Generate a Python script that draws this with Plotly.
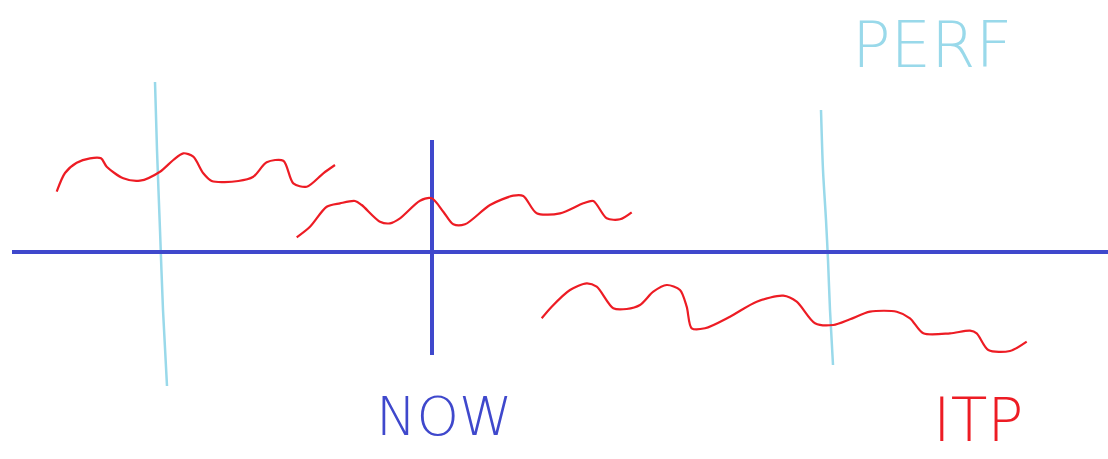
import plotly.graph_objects as go

# Sketch coordinates (x to the right, y downward, in canvas units)
wave1_x = [56.7, 65, 76.7, 90, 101, 106.7, 123.3, 140, 160, 173.3, 183.3, 193.3, 203.3, 211.7,
           238.3, 253.3, 266.7, 283.3, 293.3, 306.7, 323.3, 335]
wave1_y = [191.7, 173, 162.7, 158.3, 158.3, 166.7, 178.3, 180.7, 171.7, 160, 153.3, 156.7, 173.3, 181,
           181, 176.7, 162.3, 160.7, 183.3, 186.7, 173.3, 165]

wave2_x = [296.7, 310, 326.7, 340, 355, 361.7, 380, 390, 400, 420, 431.7, 443.3, 453.3, 465,
           490, 513.3, 523.3, 536.7, 560, 583.3, 593.3, 606.7, 620, 631.7]
wave2_y = [237.3, 226.7, 206.7, 203.3, 201, 205, 221.7, 223.3, 218.3, 200.7, 198.3, 211.7, 224.3, 224.3,
           205, 195.7, 196, 213.3, 213.3, 203.3, 201, 218.3, 219.3, 212.3]

wave3_x = [541.7, 551.7, 570, 586.7, 596.7, 613.3, 626.7, 640, 653.3, 666.7, 680, 686.7, 691.7, 705,
           730, 756.7, 783.3, 796.7, 815, 833.3, 850, 870, 896.7, 910, 923.3, 950, 970, 976.7,
           988.3, 1010, 1026.7]
wave3_y = [318.3, 306.7, 290, 283.3, 286.7, 308.3, 309, 305, 291.7, 285, 290, 306.7, 328.3, 328.3,
           316.7, 301.7, 295.7, 301.7, 323.3, 325, 319.3, 311.7, 311.7, 318.3, 333.3, 333.3, 330.7, 333.3,
           350, 351, 341.7]

axis_h_x = [12, 1108]
axis_h_y = [252, 252]
axis_v_x = [432, 432]
axis_v_y = [140, 355]

marker1_x = [155, 157, 160, 163, 167]
marker1_y = [82, 150, 230, 310, 386]
marker2_x = [821, 823, 826, 828, 830, 833]
marker2_y = [110, 170, 220, 260, 310, 365]

labels = ["NOW", "PERF", "ITP"]
label_x = [444, 932, 978]
label_y = [416, 45, 420]

RED = "#ED1C24"
BLUE = "#3F48CC"
LIGHT = "#99D9EA"

fig = go.Figure()

def line(x, y, color, width):
    fig.add_trace(go.Scatter(x=x, y=y, mode="lines",
                             line=dict(color=color, width=width, shape="spline", smoothing=0.8),
                             hoverinfo="skip", showlegend=False))

line(marker1_x, marker1_y, LIGHT, 2.5)
line(marker2_x, marker2_y, LIGHT, 2.5)
line(axis_h_x, axis_h_y, BLUE, 4)
line(axis_v_x, axis_v_y, BLUE, 4)
line(wave1_x, wave1_y, RED, 2.2)
line(wave2_x, wave2_y, RED, 2.2)
line(wave3_x, wave3_y, RED, 2.2)

label_colors = [BLUE, LIGHT, RED]
label_sizes = [54, 64, 60]
for t, x, y, c, s in zip(labels, label_x, label_y, label_colors, label_sizes):
    fig.add_annotation(x=x, y=y, text=t, showarrow=False, xref="x", yref="y",
                       font=dict(family="DejaVu Sans", size=s, color=c, weight=200))

fig.update_layout(
    width=1108, height=459,
    margin=dict(l=0, r=0, t=0, b=0),
    paper_bgcolor="white", plot_bgcolor="white",
    xaxis=dict(range=[0, 1108], visible=False, fixedrange=True),
    yaxis=dict(range=[459, 0], visible=False, fixedrange=True),
)

fig.write_html("out.html", config={"displayModeBar": False},
               post_script="document.body.style.margin='0';document.body.style.overflow='hidden';")
